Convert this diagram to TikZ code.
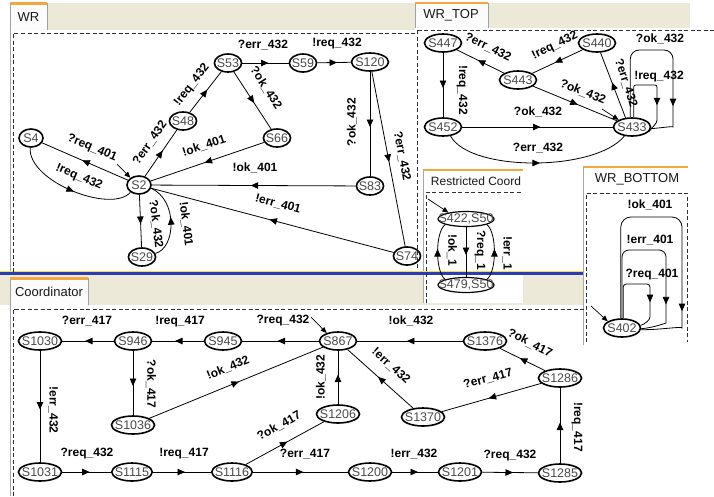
\documentclass[tikz,border=0pt]{standalone}
\usepackage{fontspec}
\setmainfont{Liberation Sans}
\usetikzlibrary{shapes.geometric,arrows.meta,decorations.markings}
\definecolor{beige}{HTML}{ECE9D8}
\definecolor{nodetxt}{HTML}{4A4A4A}
\definecolor{tabor}{HTML}{F3A83B}
\definecolor{tabw}{HTML}{FCFCFC}
\definecolor{tabline}{HTML}{A0A0A0}
\definecolor{winblue}{HTML}{2B3CB0}
\definecolor{winyel}{HTML}{F0DC50}
\definecolor{dashcol}{HTML}{2B2F3A}
\definecolor{wingray}{HTML}{A8A8A8}
\begin{document}
\begin{tikzpicture}[x=1pt,y=-1pt,
  sn/.style={ellipse, draw=black, line width=1.6pt, inner xsep=-1.5pt, inner ysep=-1pt, minimum width=24pt, minimum height=18pt, font=\fontsize{12.5}{12.5}\selectfont, text=nodetxt},
  snf/.style={sn, inner xsep=-2.8pt},
  wsn/.style={sn, inner xsep=-12pt, minimum width=56pt, minimum height=15pt, line width=1.2pt},
  lab/.style={font=\bfseries\fontsize{12}{12}\selectfont, inner sep=0pt, text=black},
  conn/.style={line width=0.8pt, draw=black},
  midarrow/.style={postaction={decorate}, decoration={markings, mark=at position #1 with {\arrow[xshift=3pt]{Triangle[length=7.5pt,width=6.5pt]}}}},
  midarrow/.default=0.5,
  initarr/.style={line width=0.7pt, draw=black, -{Triangle[length=6pt,width=5pt]}},
  dframe/.style={draw=dashcol, line width=0.8pt, dash pattern=on 4pt off 2.5pt},
  wline/.style={draw=wingray, line width=0.8pt},
  tabt/.style={font=\fontsize{13}{13}\selectfont, inner sep=0pt, text=black!90},
]
\useasboundingbox (0,0) rectangle (714,496);
% ---------- window chrome ----------
% WR
\fill[beige] (10,3) rectangle (415,30);
\fill[tabw] (10,3) rectangle (47,30);
\draw[tabline, line width=0.6pt] (10,30) |- (47,3) -- (47,30);
\fill[tabor] (10,2) rectangle (47,4.5);
\node[tabt] (tWR) at (28.5,17) {WR};
\draw[wline] (10,30) -- (10,272);
% WR_TOP
\fill[beige] (415,3) rectangle (690,28);
\fill[tabw] (415,3) rectangle (488,28);
\draw[tabline, line width=0.6pt] (415,28) |- (488,3) -- (488,28);
\fill[tabor] (415,1.5) rectangle (488,4);
\node[tabt] (tWRT) at (451,15) {WR\_TOP};
% Coordinator bar
\fill[beige] (0,275) rectangle (584,305);
\fill[tabw] (10,278) rectangle (88,305);
\draw[tabline, line width=0.6pt] (10,305) |- (88,278) -- (88,305);
\fill[tabor] (10,277) rectangle (88,279.5);
\node[tabt] (tCo) at (49,292) {Coordinator};
\draw[wline] (10,305) -- (10,496);
% Restricted Coord window
\fill[white] (423,169) rectangle (523,303);
\fill[tabor] (423,168.5) rectangle (523,170.5);
\draw[wline] (423,169) -- (423,303);
\node[tabt, font=\fontsize{12}{12}\selectfont] (tRC) at (476,181) {Restricted Coord};
% blue separator
\fill[winyel] (0,270.5) rectangle (584,272);
\fill[winblue] (0,272) rectangle (584,274.5);
% WR_BOTTOM window
\fill[white] (583,167) rectangle (714,345);
\fill[tabor] (583,166) rectangle (688,168);
\draw[wline] (583,167) -- (583,345);
\node[tabt] (tWRB) at (637,179) {WR\_BOTTOM};
% dashed frames
\draw[dframe] (13,272) -- (13,33) -- (417.5,33);
\draw[dframe] (417.5,30) -- (417.5,270);
\draw[dframe] (417.5,30) -- (714,30);
\draw[dframe] (426,303) -- (426,192) -- (521,192);
\draw[dframe] (586,342) -- (586,193) -- (687,193) -- (687,342);
\draw[dframe] (13,496) -- (13,309) -- (586,309);

% ---------- WR ----------
\node[sn] (S4) at (31,138) {S4};
\node[sn] (S2) at (139,185) {S2};
\node[sn] (S29) at (142,257) {S29};
\node[sn] (S48) at (183,121) {S48};
\node[sn] (S53) at (228,63) {S53};
\node[sn] (S59) at (303,63) {S59};
\node[sn] (S120) at (370,62) {S120};
\node[sn] (S66) at (277,138) {S66};
\node[sn] (S83) at (370,186) {S83};
\node[sn] (S74) at (407,256) {S74};

\draw[conn,midarrow] (S2) -- (S4);
\draw[conn,midarrow] (S4.-95) .. controls (28,182) and (112,214) .. (S2.-140);
\draw[conn,midarrow] (S2) -- (S48);
\draw[conn,midarrow] (S48) -- (S53);
\draw[conn,midarrow] (S53) -- (S59);
\draw[conn,midarrow] (S59) -- (S120);
\draw[conn,midarrow] (S53) -- (S66);
\draw[conn,midarrow] (S66) -- (S2);
\draw[conn,midarrow] (S83) -- (S2);
\draw[conn,midarrow] (S74) -- (S2);
\draw[conn,midarrow] (S120) -- (S83);
\draw[conn,midarrow] (S120) -- (S74);
\draw[conn,midarrow] (S2) -- (S29);
\draw[conn,midarrow] (S29.15) .. controls (176,248) and (178,200) .. (S2.-15);
\coordinate (iS2) at (117,164);
\draw[initarr] (iS2) -- (S2.140);

\node[lab, rotate=-23] (l1) at (92,148) {?req\_401};
\node[lab, rotate=-23] (l2) at (79,177) {!req\_432};
\node[lab, rotate=55] (l3) at (150,143) {?err\_432};
\node[lab, rotate=52] (l4) at (192,85) {!req\_432};
\node[lab] (l5) at (263,45) {?err\_432};
\node[lab] (l6) at (337,44) {!req\_432};
\node[lab, rotate=-57] (l7) at (266,88) {?ok\_432};
\node[lab, rotate=18] (l8) at (204,146) {!ok\_401};
\node[lab] (l9) at (255,168) {!ok\_401};
\node[lab, rotate=-15] (l10) at (278,204) {!err\_401};
\node[lab, rotate=90] (l11) at (352,122) {?ok\_432};
\node[lab, rotate=-79] (l12) at (402,156) {?err\_432};
\node[lab, rotate=-83] (l13) at (156,224) {?ok\_432};
\node[lab, rotate=-83] (l14) at (186,224) {!ok\_401};

% ---------- WR_TOP ----------
\node[sn] (S447) at (443,43) {S447};
\node[sn] (S440) at (597,43) {S440};
\node[sn] (S443) at (518,80) {S443};
\node[sn] (S452) at (443,127) {S452};
\node[sn] (S433) at (632,127) {S433};

\draw[conn,midarrow] (S443) -- (S447);
\draw[conn,midarrow] (S440) -- (S443);
\draw[conn,midarrow] (S443) -- (S433);
\draw[conn,midarrow] (S447) -- (S452);
\draw[conn,midarrow] (S452) -- (S433);
\draw[conn,midarrow] (S452.-50) .. controls (470,172) and (595,172) .. (S433.-130);
\draw[conn,midarrow] (S433.125) -- (S440.-70);
\draw[conn, rounded corners=9pt, midarrow=-46pt] (S433.100) |- (673,50) -- (673,118) [sharp corners] .. controls (673,126) and (660,128) .. (S433.-5);
\draw[conn, rounded corners=2pt, midarrow=-32pt] (S433.80) |- (657,85) -- (657,118) [sharp corners] .. controls (657,124) and (652,127) .. (S433.-15);
\coordinate (iS433) at (602,109);
\draw[initarr] (iS433) -- (S433.152);

\node[lab, rotate=-26] (m1) at (488,47) {?err\_432};
\node[lab, rotate=26] (m2) at (555,46) {!req\_432};
\node[lab, rotate=-22] (m3) at (583,92) {?ok\_432};
\node[lab, rotate=-90] (m4) at (462,90) {!req\_432};
\node[lab] (m5) at (538,112) {?ok\_432};
\node[lab] (m6) at (538,148) {?err\_432};
\node[lab, rotate=-72] (m7) at (626,83) {?err\_432};
\node[lab] (m8) at (660,39) {?ok\_432};
\node[lab] (m9) at (659,77) {!req\_432};

% ---------- Restricted Coord ----------
\node[wsn] (R1) at (466,219) {S422,S50};
\node[wsn] (R2) at (466,285) {S479,S50};
\draw[conn,midarrow] (R1) -- (R2);
\draw[conn,midarrow] (R2.165) .. controls (435,272) and (435,232) .. (R1.195);
\draw[conn,midarrow] (R2.15) .. controls (497,272) and (497,232) .. (R1.-15);
\coordinate (iR) at (428,199);
\draw[initarr] (iR) -- (R1.160);
\node[lab, rotate=-90] (r1) at (452,250) {!ok\_1};
\node[lab, rotate=-90] (r2) at (480,250) {?req\_1};
\node[lab, rotate=-90] (r3) at (507,253) {!err\_1};

% ---------- WR_BOTTOM ----------
\node[sn] (S402) at (622,328) {S402};
\draw[conn, rounded corners=10pt, midarrow=-61pt] (S402.97) |- (682,217) -- (682,318) [sharp corners] .. controls (682,326) and (660,330) .. (S402.-5);
\draw[conn, rounded corners=7pt, midarrow=-47pt] (S402.90) |- (666,250) -- (666,316) [sharp corners] .. controls (666,323) and (652,328) .. (S402.-2);
\draw[conn, rounded corners=3pt, midarrow=-31pt] (S402.83) |- (650,284) -- (650,314) [sharp corners] .. controls (650,320) and (645,324) .. (S402.8);
\coordinate (iS402) at (591,306);
\draw[initarr] (iS402) -- (S402.155);
\node[lab] (b1) at (650,205) {!ok\_401};
\node[lab] (b2) at (650,240) {!err\_401};
\node[lab] (b3) at (652,275) {?req\_401};

% ---------- Coordinator ----------
\node[snf] (S1030) at (40,341) {S1030};
\node[sn] (S946) at (133,341) {S946};
\node[sn] (S945) at (223,341) {S945};
\node[sn] (S867) at (338,341) {S867};
\node[snf] (S1376) at (485,341) {S1376};
\node[snf] (S1286) at (560,378) {S1286};
\node[snf] (S1036) at (133,425) {S1036};
\node[snf] (S1206) at (338,414) {S1206};
\node[snf] (S1370) at (423,417) {S1370};
\node[snf] (S1031) at (40,472) {S1031};
\node[snf] (S1115) at (132,472) {S1115};
\node[snf] (S1116) at (232,472) {S1116};
\node[snf] (S1200) at (370,472) {S1200};
\node[snf] (S1201) at (460,472) {S1201};
\node[snf] (S1285) at (560,473) {S1285};

\draw[conn,midarrow] (S946) -- (S1030);
\draw[conn,midarrow] (S945) -- (S946);
\draw[conn,midarrow] (S867) -- (S945);
\draw[conn,midarrow] (S1376) -- (S867);
\draw[conn,midarrow] (S1286) -- (S1376);
\draw[conn,midarrow] (S1286) -- (S1370);
\draw[conn,midarrow] (S1370) -- (S867);
\draw[conn,midarrow] (S1206) -- (S867);
\draw[conn,midarrow] (S1036) -- (S867);
\draw[conn,midarrow] (S946) -- (S1036);
\draw[conn,midarrow] (S1030) -- (S1031);
\draw[conn,midarrow] (S1031) -- (S1115);
\draw[conn,midarrow] (S1115) -- (S1116);
\draw[conn,midarrow] (S1116) -- (S1200);
\draw[conn,midarrow] (S1116) -- (S1206);
\draw[conn,midarrow] (S1200) -- (S1201);
\draw[conn,midarrow] (S1201) -- (S1285);
\draw[conn,midarrow] (S1285) -- (S1286);
\coordinate (iS867) at (311,317);
\draw[initarr] (iS867) -- (S867.145);

\node[lab] (c1) at (87,321) {?err\_417};
\node[lab] (c2) at (180,322) {!req\_417};
\node[lab] (c3) at (283,321) {?req\_432};
\node[lab] (c4) at (411,321) {!ok\_432};
\node[lab, rotate=-27] (c5) at (530,343) {?ok\_417};
\node[lab, rotate=15] (c6) at (488,379) {?err\_417};
\node[lab, rotate=-42] (c7) at (391,366) {!err\_432};
\node[lab, rotate=90] (c8) at (321,377) {!ok\_432};
\node[lab, rotate=22] (c9) at (228,368) {!ok\_432};
\node[lab, rotate=-90] (c10) at (151,384) {?ok\_417};
\node[lab, rotate=-90] (c11) at (53,410) {!err\_432};
\node[lab] (c12) at (87,454) {?req\_432};
\node[lab] (c13) at (184,454) {!req\_417};
\node[lab] (c14) at (305,454) {?err\_417};
\node[lab, rotate=29] (c15) at (279,426) {?ok\_417};
\node[lab] (c16) at (414,454) {!err\_432};
\node[lab] (c17) at (510,456) {?req\_432};
\node[lab, rotate=-90] (c18) at (577,427) {!req\_417};
\end{tikzpicture}
\end{document}
